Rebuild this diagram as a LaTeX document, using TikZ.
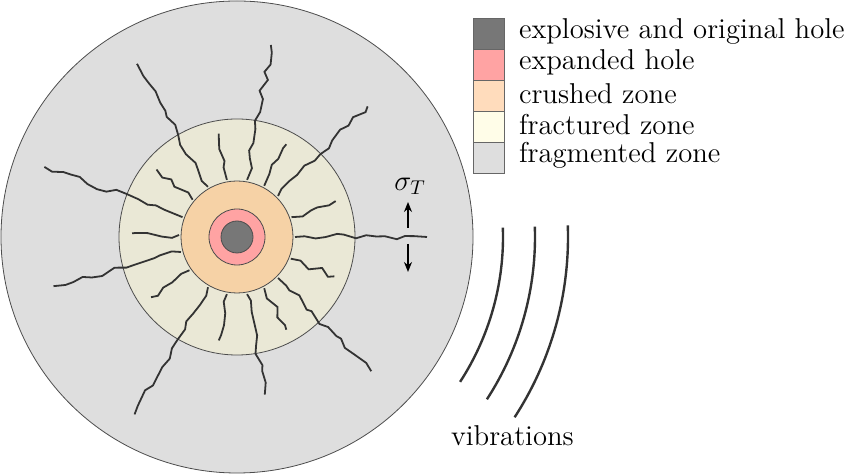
\documentclass[tikz,border=0pt]{standalone}
\usetikzlibrary{decorations.pathmorphing,arrows.meta,calc}

\definecolor{explosiv}{HTML}{777777}
\definecolor{expanded}{HTML}{FFA3A3}
\definecolor{crushed}{HTML}{F6D2A6}
\definecolor{crushedkey}{HTML}{FFDCBC}
\definecolor{fractured}{HTML}{EAE8D6}
\definecolor{fracturedkey}{HTML}{FFFDE8}
\definecolor{fragmented}{HTML}{DEDEDE}

\tikzset{
  zone/.style={draw=black!70, line width=0.4pt},
  crack/.style={draw=black!80, line width=0.9pt,
    decorate, decoration={random steps, segment length=5, amplitude=1.6}},
  keybox/.style={draw=black!60, minimum width=15.5bp, minimum height=15.5bp, inner sep=0pt},
  keytext/.style={anchor=west, font=\fontsize{14.4}{16}\selectfont}
}

\begin{document}
\begin{tikzpicture}[x=0.5bp, y=-0.5bp]
  \useasboundingbox (0,0) rectangle (853,474);
  \pgfmathsetseed{7}
  \coordinate (c) at (237,237);

  % zones
  \fill[zone, fill=fragmented] (c) circle[radius=236];
  \fill[zone, fill=fractured] (c) circle[radius=118];
  \fill[zone, fill=crushed] (c) circle[radius=56];

  % long cracks
  \foreach \a/\r in {0/190, 45/185, 80/195, 120/200, 160/205, 195/190, 240/205, 280/160, 315/190} {
    \draw[crack] ($(c)+(-\a:58)$) -- ($(c)+(-\a:\r)$);
  }
  % short cracks
  \foreach \a in {20,62,100,140,178,215,260,298,338} {
    \draw[crack] ($(c)+(-\a:58)$) -- ($(c)+(-\a:105)$);
  }

  \fill[zone, fill=expanded] (c) circle[radius=28];
  \fill[zone, fill=explosiv] (c) circle[radius=16];

  % tension
  \node (sig) at (410,186) {\fontsize{14.4}{16}\selectfont$\sigma_T$};
  \coordinate (up) at (408,228);
  \coordinate (dn) at (408,244);
  \draw[-{Stealth[length=5bp,width=4bp]}, line width=0.8pt] (up) -- ++(0,-26);
  \draw[-{Stealth[length=5bp,width=4bp]}, line width=0.8pt] (dn) -- ++(0,28);

  % vibrations
  \foreach \r in {266,298,331} {
    \draw[black!80, line width=1.2pt] ($(c)+(-2:\r)$) arc[start angle=-2, end angle=33, radius=\r];
  }
  \node[keytext] (vib) at (444,436) {vibrations};

  % legend
  \foreach \y/\col/\txt in {33.5/explosiv/explosive and original hole,
                            64.5/expanded/expanded hole,
                            95.5/crushedkey/crushed zone,
                            126.5/fracturedkey/fractured zone,
                            157.5/fragmented/fragmented zone} {
    \node[keybox, fill=\col] (k\y) at (489,\y) {};
    \node[keytext] (t\y) at (512,\y-2) {\txt};
  }
\end{tikzpicture}
\end{document}
